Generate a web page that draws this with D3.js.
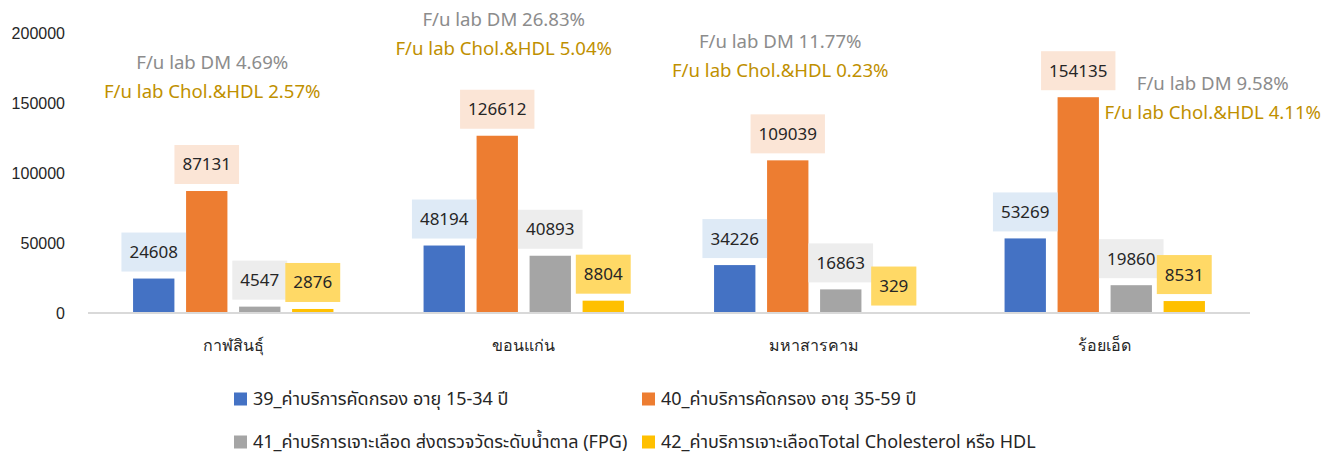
<!DOCTYPE html>
<html>
<head>
<meta charset="utf-8">
<script src="https://cdn.jsdelivr.net/npm/d3@7"></script>
<style>
  html, body { margin: 0; padding: 0; background: #fff; }
  svg { display: block; font-family: "Noto Sans", "Noto Sans Thai", "Leelawadee UI", Tahoma, sans-serif; }
</style>
</head>
<body>
<svg id="chart" width="1335" height="457"></svg>
<script>
// ---------- data ----------
const categories = ["กาฬสินธุ์", "ขอนแก่น", "มหาสารคาม", "ร้อยเอ็ด"];
const seriesNames = [
  "39_ค่าบริการคัดกรอง อายุ 15-34 ปี",
  "40_ค่าบริการคัดกรอง อายุ 35-59 ปี",
  "41_ค่าบริการเจาะเลือด ส่งตรวจวัดระดับน้ำตาล (FPG)",
  "42_ค่าบริการเจาะเลือดTotal Cholesterol หรือ HDL"
];
const s39 = [24608, 48194, 34226, 53269];
const s40 = [87131, 126612, 109039, 154135];
const s41 = [4547, 40893, 16863, 19860];
const s42 = [2876, 8804, 329, 8531];
const yTicks = [0, 50000, 100000, 150000, 200000];
const dmRates = ["4.69%", "26.83%", "11.77%", "9.58%"];
const cholRates = ["2.57%", "5.04%", "0.23%", "4.11%"];

// ---------- styles / layout ----------
const barColors = ["#4472C4", "#ED7D31", "#A5A5A5", "#FFC000"];
const labelFills = ["#DEEAF6", "#FBE5D6", "#EDEDED", "#FFD966"];
// annotation placement: x offset from category centre (px), y of first line (px)
const annoDx = [-21, -20, -34, 108];
const annoY = [62, 19, 41, 83];

const series = [s39, s40, s41, s42];
const svg = d3.select("#chart");

const x0 = d3.scaleBand().domain(categories).range([88, 1250]).paddingInner(0).paddingOuter(0);
const x1 = d3.scaleBand().domain(d3.range(series.length)).range([0, x0.bandwidth()])
  .paddingInner(0.22).paddingOuter(0.85);
const y = d3.scaleLinear().domain([0, 200000]).range([313, 33]);

// y-axis labels
const yAxis = d3.axisLeft(y).tickValues(yTicks).tickSize(0).tickPadding(0).tickFormat(d3.format("d"));
const gy = svg.append("g").attr("transform", "translate(65,0)").call(yAxis);
gy.select(".domain").remove();
gy.selectAll("text").attr("font-size", 16).attr("fill", "#262626")
  .attr("font-family", "inherit").attr("dy", "0.35em");

// bars
series.forEach((vals, si) => {
  svg.append("g").selectAll("rect").data(vals).join("rect")
    .attr("x", (d, i) => x0(categories[i]) + x1(si))
    .attr("y", d => y(d))
    .attr("width", x1.bandwidth())
    .attr("height", d => y(0) - y(d))
    .attr("fill", barColors[si]);
});

// x axis line
const gx = svg.append("g").attr("transform", `translate(0,${y(0)})`)
  .call(d3.axisBottom(x0).tickSize(0).tickPadding(0));
gx.select(".domain").attr("stroke", "#D9D9D9").attr("stroke-width", 2)
  .attr("d", `M${x0.range()[0]},0H${x0.range()[1]}`);
gx.selectAll("text").attr("font-size", 16).attr("fill", "#262626")
  .attr("font-family", "inherit").attr("y", 32).attr("dy", "0.35em");

// data labels
series.forEach((vals, si) => {
  vals.forEach((v, i) => {
    const cx = x0(categories[i]) + x1(si) + x1.bandwidth() / 2;
    const g = svg.append("g");
    const t = g.append("text").text(v)
      .attr("x", cx).attr("text-anchor", "middle")
      .attr("font-size", 17).attr("fill", "#262626");
    const w = t.node().getComputedTextLength() + 16;
    const h = 39;
    const bottom = y(v) - 7;
    g.insert("rect", "text")
      .attr("x", cx - w / 2).attr("y", bottom - h)
      .attr("width", w).attr("height", h)
      .attr("fill", labelFills[si]);
    t.attr("y", bottom - h / 2).attr("dy", "0.35em");
  });
});

// annotations
categories.forEach((c, i) => {
  const cx = x0(c) + x0.bandwidth() / 2 + annoDx[i];
  svg.append("text").text("F/u lab DM " + dmRates[i])
    .attr("x", cx).attr("y", annoY[i]).attr("dy", "0.35em")
    .attr("text-anchor", "middle").attr("font-size", 18.6).attr("fill", "#8C8C8C");
  svg.append("text").text("F/u lab Chol.&HDL " + cholRates[i])
    .attr("x", cx).attr("y", annoY[i] + 29.5).attr("dy", "0.35em")
    .attr("text-anchor", "middle").attr("font-size", 18.6).attr("fill", "#BF9000");
});

// legend
const legPos = [[234, 399], [642, 399], [234, 442], [642, 442]];
seriesNames.forEach((name, si) => {
  const [lx, ly] = legPos[si];
  svg.append("rect").attr("x", lx).attr("y", ly - 6.5).attr("width", 13).attr("height", 13)
    .attr("fill", barColors[si]);
  svg.append("text").text(name).attr("x", lx + 19).attr("y", ly).attr("dy", "0.35em")
    .attr("font-size", 18).attr("fill", "#262626");
});
</script>
</body>
</html>
